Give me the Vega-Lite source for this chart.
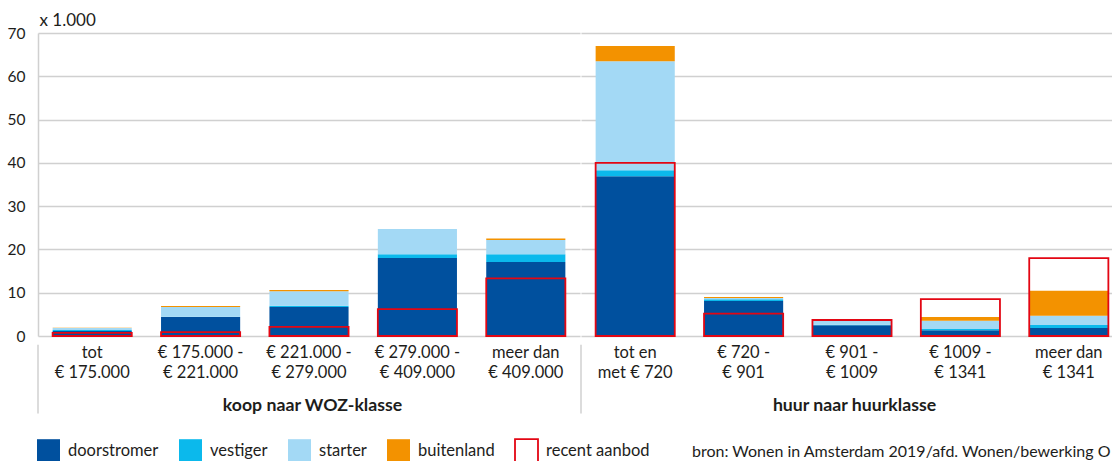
{
  "$schema": "https://vega.github.io/schema/vega-lite/v6.json",
  "padding": {"left": 7, "top": 11, "right": 0, "bottom": 0},
  "background": "white",
  "config": {
    "font": "Lato",
    "view": {"stroke": null},
    "concat": {"spacing": 0},
    "axis": {"labelColor": "#1d1d1b", "titleColor": "#1d1d1b", "gridColor": "#d0d0d0", "gridWidth": 1.5, "domainColor": "#d0d0d0", "domainWidth": 1.5},
    "legend": {"labelColor": "#1d1d1b", "titleColor": "#1d1d1b"}
  },
  "spacing": 0,
  "datasets": {
    "seg": [
      {"group": "koop", "cat": "tot|€ 175.000", "component": "doorstromer", "value": 1.15},
      {"group": "koop", "cat": "tot|€ 175.000", "component": "vestiger", "value": 0.25},
      {"group": "koop", "cat": "tot|€ 175.000", "component": "starter", "value": 0.45},
      {"group": "koop", "cat": "tot|€ 175.000", "component": "buitenland", "value": 0.05},
      {"group": "koop", "cat": "€ 175.000 -|€ 221.000", "component": "doorstromer", "value": 4.4},
      {"group": "koop", "cat": "€ 175.000 -|€ 221.000", "component": "vestiger", "value": 0.05},
      {"group": "koop", "cat": "€ 175.000 -|€ 221.000", "component": "starter", "value": 2.25},
      {"group": "koop", "cat": "€ 175.000 -|€ 221.000", "component": "buitenland", "value": 0.25},
      {"group": "koop", "cat": "€ 221.000 -|€ 279.000", "component": "doorstromer", "value": 6.7},
      {"group": "koop", "cat": "€ 221.000 -|€ 279.000", "component": "vestiger", "value": 0.3},
      {"group": "koop", "cat": "€ 221.000 -|€ 279.000", "component": "starter", "value": 3.35},
      {"group": "koop", "cat": "€ 221.000 -|€ 279.000", "component": "buitenland", "value": 0.25},
      {"group": "koop", "cat": "€ 279.000 -|€ 409.000", "component": "doorstromer", "value": 18.0},
      {"group": "koop", "cat": "€ 279.000 -|€ 409.000", "component": "vestiger", "value": 0.9},
      {"group": "koop", "cat": "€ 279.000 -|€ 409.000", "component": "starter", "value": 5.8},
      {"group": "koop", "cat": "€ 279.000 -|€ 409.000", "component": "buitenland", "value": 0.0},
      {"group": "koop", "cat": "meer dan|€ 409.000", "component": "doorstromer", "value": 17.1},
      {"group": "koop", "cat": "meer dan|€ 409.000", "component": "vestiger", "value": 1.8},
      {"group": "koop", "cat": "meer dan|€ 409.000", "component": "starter", "value": 3.25},
      {"group": "koop", "cat": "meer dan|€ 409.000", "component": "buitenland", "value": 0.4},
      {"group": "huur", "cat": "tot en|met € 720", "component": "doorstromer", "value": 36.9},
      {"group": "huur", "cat": "tot en|met € 720", "component": "vestiger", "value": 1.4},
      {"group": "huur", "cat": "tot en|met € 720", "component": "starter", "value": 25.2},
      {"group": "huur", "cat": "tot en|met € 720", "component": "buitenland", "value": 3.5},
      {"group": "huur", "cat": "€ 720 -|€ 901", "component": "doorstromer", "value": 8.1},
      {"group": "huur", "cat": "€ 720 -|€ 901", "component": "vestiger", "value": 0.4},
      {"group": "huur", "cat": "€ 720 -|€ 901", "component": "starter", "value": 0.3},
      {"group": "huur", "cat": "€ 720 -|€ 901", "component": "buitenland", "value": 0.2},
      {"group": "huur", "cat": "€ 901 -|€ 1009", "component": "doorstromer", "value": 2.5},
      {"group": "huur", "cat": "€ 901 -|€ 1009", "component": "vestiger", "value": 0.1},
      {"group": "huur", "cat": "€ 901 -|€ 1009", "component": "starter", "value": 1.0},
      {"group": "huur", "cat": "€ 901 -|€ 1009", "component": "buitenland", "value": 0.2},
      {"group": "huur", "cat": "€ 1009 -|€ 1341", "component": "doorstromer", "value": 1.3},
      {"group": "huur", "cat": "€ 1009 -|€ 1341", "component": "vestiger", "value": 0.3},
      {"group": "huur", "cat": "€ 1009 -|€ 1341", "component": "starter", "value": 1.9},
      {"group": "huur", "cat": "€ 1009 -|€ 1341", "component": "buitenland", "value": 0.9},
      {"group": "huur", "cat": "meer dan|€ 1341", "component": "doorstromer", "value": 1.85},
      {"group": "huur", "cat": "meer dan|€ 1341", "component": "vestiger", "value": 0.7},
      {"group": "huur", "cat": "meer dan|€ 1341", "component": "starter", "value": 2.1},
      {"group": "huur", "cat": "meer dan|€ 1341", "component": "buitenland", "value": 5.8}
    ],
    "recent": [
      {"group": "koop", "cat": "tot|€ 175.000", "value": 0.7},
      {"group": "koop", "cat": "€ 175.000 -|€ 221.000", "value": 0.9},
      {"group": "koop", "cat": "€ 221.000 -|€ 279.000", "value": 2.1},
      {"group": "koop", "cat": "€ 279.000 -|€ 409.000", "value": 6.2},
      {"group": "koop", "cat": "meer dan|€ 409.000", "value": 13.3},
      {"group": "huur", "cat": "tot en|met € 720", "value": 40.0},
      {"group": "huur", "cat": "€ 720 -|€ 901", "value": 5.15},
      {"group": "huur", "cat": "€ 901 -|€ 1009", "value": 3.7},
      {"group": "huur", "cat": "€ 1009 -|€ 1341", "value": 8.5},
      {"group": "huur", "cat": "meer dan|€ 1341", "value": 18.0}
    ]
  },
  "resolve": {"scale": {"color": "shared", "x": "independent", "y": "independent"}, "legend": {"color": "shared"}},
  "hconcat": [
    {
      "width": 542,
      "height": 303,
      "layer": [
        {
          "data": {"name": "seg"},
          "transform": [
            {"filter": "datum.group === 'koop'"},
            {"calculate": "indexof(['doorstromer','vestiger','starter','buitenland'], datum.component)", "as": "ord"}
          ],
          "mark": {"type": "bar", "width": {"band": 0.73}},
          "encoding": {
            "x": {
              "field": "cat", "type": "nominal",
              "scale": {"domain": ["tot|€ 175.000", "€ 175.000 -|€ 221.000", "€ 221.000 -|€ 279.000", "€ 279.000 -|€ 409.000", "meer dan|€ 409.000"], "paddingInner": 0, "paddingOuter": 0},
              "axis": {"title": "koop naar WOZ-klasse", "labelExpr": "split(datum.label, '|')", "labelAngle": 0, "labelFontSize": 16.5, "labelLineHeight": 20, "labelPadding": 8, "labelBaseline": "top", "labelLimit": 0, "ticks": false, "domain": false, "grid": false, "titleFontSize": 17.7, "titleFontWeight": "bold", "titlePadding": 16, "titleX": 274, "titleAlign": "center"}
            },
            "y": {
              "field": "value", "type": "quantitative", "stack": "zero",
              "scale": {"domain": [0, 70], "nice": false},
              "axis": {"title": "x 1.000", "titleAngle": 0, "titleX": 1, "titleY": -8, "titleAlign": "left", "titleBaseline": "alphabetic", "titleFontWeight": "normal", "titleFontSize": 17, "values": [0, 10, 20, 30, 40, 50, 60, 70], "ticks": false, "labelPadding": 13, "labelFontSize": 15.5, "grid": true}
            },
            "color": {
              "field": "component", "type": "nominal",
              "scale": {"domain": ["doorstromer", "vestiger", "starter", "buitenland", "recent aanbod"], "range": ["#00509e", "#0bb9ec", "#a3d9f5", "#f39200", "#ffffff"]},
              "legend": {"orient": "none", "legendX": -2, "legendY": 405, "direction": "horizontal", "title": "bron: Wonen in Amsterdam 2019/afd. Wonen/bewerking O", "titleOrient": "right", "titleFontSize": 16, "titleFontWeight": "normal", "titleLimit": 600, "titlePadding": 43, "symbolType": "square", "symbolSize": 529, "symbolStrokeWidth": 1.8, "labelFontSize": 16.5, "labelOffset": 7, "columnPadding": 16, "encode": {"symbols": {"update": {"stroke": {"signal": "datum.label === 'recent aanbod' ? '#e30613' : 'transparent'"}}}}}
            },
            "order": {"field": "ord", "type": "quantitative", "sort": "ascending"}
          }
        },
        {
          "data": {"name": "recent"},
          "transform": [{"filter": "datum.group === 'koop'"}],
          "mark": {"type": "bar", "width": {"band": 0.73}, "filled": false, "color": "#e30613", "strokeWidth": 1.8},
          "encoding": {
            "x": {"field": "cat", "type": "nominal"},
            "y": {"field": "value", "type": "quantitative", "stack": null}
          }
        },
        {
          "data": {"name": "recent"},
          "transform": [{"filter": "datum.cat === 'tot|€ 175.000'"}],
          "mark": {"type": "rule", "color": "#d0d0d0", "strokeWidth": 1.5},
          "encoding": {
            "x": {"field": "cat", "type": "nominal", "bandPosition": 0},
            "y": {"datum": -2},
            "y2": {"datum": -17.9}
          }
        }
      ]
    },
    {
      "width": 533,
      "height": 303,
      "layer": [
        {
          "data": {"name": "seg"},
          "transform": [
            {"filter": "datum.group === 'huur'"},
            {"calculate": "indexof(['doorstromer','vestiger','starter','buitenland'], datum.component)", "as": "ord"}
          ],
          "mark": {"type": "bar", "width": {"band": 0.73}},
          "encoding": {
            "x": {
              "field": "cat", "type": "nominal",
              "scale": {"domain": ["tot en|met € 720", "€ 720 -|€ 901", "€ 901 -|€ 1009", "€ 1009 -|€ 1341", "meer dan|€ 1341"], "paddingInner": 0, "paddingOuter": 0, "range": [0, 542]},
              "axis": {"title": "huur naar huurklasse", "labelExpr": "split(datum.label, '|')", "labelAngle": 0, "labelFontSize": 16.5, "labelLineHeight": 20, "labelPadding": 8, "labelBaseline": "top", "labelLimit": 0, "ticks": false, "domain": false, "grid": false, "titleFontSize": 17.7, "titleFontWeight": "bold", "titlePadding": 16, "titleX": 273, "titleAlign": "center"}
            },
            "y": {
              "field": "value", "type": "quantitative", "stack": "zero",
              "scale": {"domain": [0, 70], "nice": false},
              "axis": {"title": null, "labels": false, "ticks": false, "domain": false, "values": [0, 10, 20, 30, 40, 50, 60, 70], "grid": true}
            },
            "color": {
              "field": "component", "type": "nominal",
              "scale": {"domain": ["doorstromer", "vestiger", "starter", "buitenland", "recent aanbod"], "range": ["#00509e", "#0bb9ec", "#a3d9f5", "#f39200", "#ffffff"]},
              "legend": {"orient": "none", "legendX": -2, "legendY": 405, "direction": "horizontal", "title": "bron: Wonen in Amsterdam 2019/afd. Wonen/bewerking O", "titleOrient": "right", "titleFontSize": 16, "titleFontWeight": "normal", "titleLimit": 600, "titlePadding": 43, "symbolType": "square", "symbolSize": 529, "symbolStrokeWidth": 1.8, "labelFontSize": 16.5, "labelOffset": 7, "columnPadding": 16, "encode": {"symbols": {"update": {"stroke": {"signal": "datum.label === 'recent aanbod' ? '#e30613' : 'transparent'"}}}}}
            },
            "order": {"field": "ord", "type": "quantitative", "sort": "ascending"}
          }
        },
        {
          "data": {"name": "recent"},
          "transform": [{"filter": "datum.group === 'huur'"}],
          "mark": {"type": "bar", "width": {"band": 0.73}, "filled": false, "color": "#e30613", "strokeWidth": 1.8},
          "encoding": {
            "x": {"field": "cat", "type": "nominal"},
            "y": {"field": "value", "type": "quantitative", "stack": null}
          }
        },
        {
          "data": {"name": "recent"},
          "transform": [{"filter": "datum.cat === 'tot en|met € 720'"}],
          "mark": {"type": "rule", "color": "#d0d0d0", "strokeWidth": 1.5},
          "encoding": {
            "x": {"field": "cat", "type": "nominal", "bandPosition": 0},
            "y": {"datum": -2},
            "y2": {"datum": -17.9}
          }
        }
      ]
    }
  ]
}
